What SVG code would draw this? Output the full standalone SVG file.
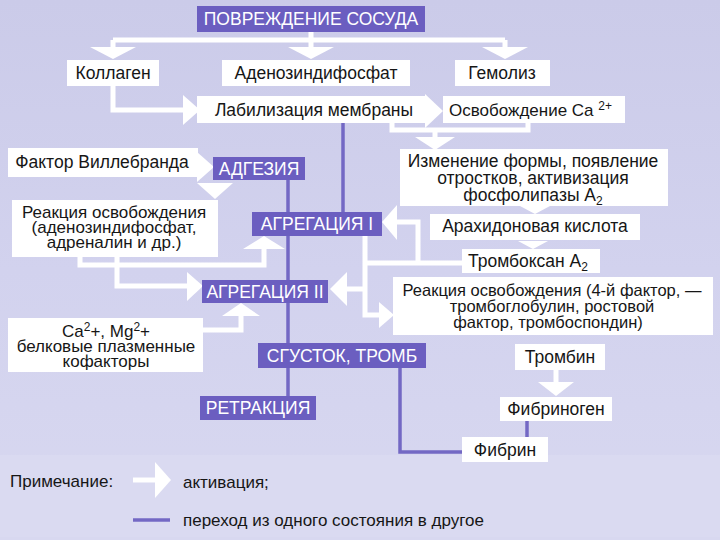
<svg xmlns="http://www.w3.org/2000/svg" width="720" height="540" viewBox="0 0 720 540">
<defs>
<linearGradient id="bgg" x1="0" y1="0" x2="0" y2="1">
<stop offset="0" stop-color="#cbcbe9"/>
<stop offset="0.5" stop-color="#d2d2ee"/>
<stop offset="1" stop-color="#d8d8f0"/>
</linearGradient>
<style>
.t{font-family:"Liberation Sans",Arial,sans-serif;font-size:17.5px;fill:#161616;text-anchor:middle}
.s{font-size:17px}
.r{font-size:16.5px}
.pt{font-family:"Liberation Sans",Arial,sans-serif;font-size:17.5px;fill:#ffffff;text-anchor:middle}
.lt{font-family:"Liberation Sans",Arial,sans-serif;font-size:17px;fill:#161616}
.box{fill:#ffffff}
.pbox{fill:#6b5ec0}
.w{fill:none;stroke:#ffffff;stroke-width:5}
.ah{fill:#ffffff}
.p{fill:none;stroke:#7368c4;stroke-width:3.5}
</style>
</defs>
<rect x="0" y="0" width="720" height="540" fill="url(#bgg)"/>
<rect x="0" y="455" width="720" height="82" fill="#dadaf1"/>

<g id="connectors">
<path class="w" d="M113,40 H505 M311,32 V48 M113,40 V48 M505,40 V48"/>
<polygon class="ah" points="90,47 136,47 113,59"/>
<polygon class="ah" points="288,47 334,47 311,59"/>
<polygon class="ah" points="482,47 528,47 505,59"/>
<path class="w" d="M113,86 V110 H185"/>
<polygon class="ah" points="183,95 183,125 200,110"/>
<polygon class="ah" points="425,94 425,128 443,111"/>
<path class="w" d="M392,123 V130 H528 V123 M435,130 V138"/>
<polygon class="ah" points="415,137 455,137 435,150"/>
<polygon class="ah" points="197,152 197,182 214,167"/>
<polygon class="ah" points="197,183 233,183 215,199"/>
<path class="w" d="M117,257 V286 H188"/>
<polygon class="ah" points="187,272 187,301 203,286"/>
<path class="w" d="M80,257 V265 H264 V248"/>
<polygon class="ah" points="243,249 285,249 264,236"/>
<path class="w" d="M203,330 H241 V315"/>
<polygon class="ah" points="222,316 260,316 241,303"/>
<polygon class="ah" points="520,206 550,206 535,214"/>
<polygon class="ah" points="518,241 548,241 533,249"/>
<path class="w" d="M462,263 H365 M418,263 V222 H397"/>
<polygon class="ah" points="397,205 397,240 382,222"/>
<path class="w" d="M365,236 V315 H380 M365,289 H347"/>
<polygon class="ah" points="379,302 379,328 394,315"/>
<polygon class="ah" points="347,272 347,306 330,289"/>
<path class="w" d="M556,370 V383"/>
<polygon class="ah" points="538,382 574,382 556,396"/>
<path class="p" d="M343,123 V212"/>
<path class="p" d="M288,180 V396"/>
<path class="p" d="M400,368 V452 H462"/>
<path class="p" d="M527,421 V437"/>
</g>

<g id="povrezhdenie"><rect class="pbox" x="197" y="6" width="228" height="26"/><text class="pt" x="311" y="25">ПОВРЕЖДЕНИЕ СОСУДА</text></g>
<g id="kollagen"><rect class="box" x="67" y="60" width="92" height="26"/><text class="t" x="113" y="79">Коллаген</text></g>
<g id="adf"><rect class="box" x="222" y="60" width="188" height="26"/><text class="t" x="316" y="79">Аденозиндифосфат</text></g>
<g id="gemoliz"><rect class="box" x="455" y="60" width="95" height="26"/><text class="t" x="502" y="79">Гемолиз</text></g>
<g id="labilizacia"><rect class="box" x="197" y="96" width="230" height="27"/><text class="t" x="314" y="116">Лабилизация мембраны</text></g>
<g id="osvobozhdenie-ca"><rect class="box" x="443" y="96" width="182" height="27"/><text class="t s" x="449" y="116" style="text-anchor:start">Освобождение Ca <tspan font-size="12" dy="-6">2+</tspan></text></g>
<g id="villebrand"><rect class="box" x="8" y="148" width="190" height="29"/><text class="t" x="102" y="168">Фактор Виллебранда</text></g>
<g id="adgezia"><rect class="pbox" x="213" y="157" width="92" height="23"/><text class="pt" x="259" y="175">АДГЕЗИЯ</text></g>
<g id="izmenenie"><rect class="box" x="400" y="149" width="268" height="57"/>
<text class="t"><tspan x="533" y="167">Изменение формы, появление</tspan><tspan x="533" y="184">отростков, активизация</tspan><tspan x="533" y="201">фосфолипазы A<tspan font-size="12" dy="4">2</tspan></tspan></text></g>
<g id="reakcia-1"><rect class="box" x="12" y="200" width="206" height="57"/>
<text class="t s"><tspan x="114" y="218">Реакция освобождения</tspan><tspan x="114" y="233">(аденозиндифосфат,</tspan><tspan x="114" y="248">адреналин и др.)</tspan></text></g>
<g id="agregacia-1"><rect class="pbox" x="252" y="212" width="130" height="24"/><text class="pt" x="317" y="230">АГРЕГАЦИЯ I</text></g>
<g id="arahidonovaya"><rect class="box" x="430" y="214" width="210" height="26"/><text class="t" x="535" y="232">Арахидоновая кислота</text></g>
<g id="tromboksan"><rect class="box" x="462" y="249" width="138" height="24"/><text class="t" x="528" y="267">Тромбоксан A<tspan font-size="12" dy="4">2</tspan></text></g>
<g id="agregacia-2"><rect class="pbox" x="202" y="280" width="126" height="23"/><text class="pt" x="265" y="298">АГРЕГАЦИЯ II</text></g>
<g id="reakcia-2"><rect class="box" x="393" y="277" width="320" height="58"/>
<text class="t r"><tspan x="552" y="296">Реакция освобождения (4-й фактор, —</tspan><tspan x="552" y="312">тромбоглобулин, ростовой</tspan><tspan x="548" y="328">фактор, тромбоспондин)</tspan></text></g>
<g id="kofaktory"><rect class="box" x="8" y="318" width="195" height="54"/>
<text class="t s"><tspan x="106" y="337">Ca<tspan font-size="12" dy="-6">2</tspan><tspan dy="6">+, Mg</tspan><tspan font-size="12" dy="-6">2</tspan><tspan dy="6">+</tspan></tspan><tspan x="106" y="352">белковые плазменные</tspan><tspan x="106" y="367">кофакторы</tspan></text></g>
<g id="sgustok"><rect class="pbox" x="258" y="343" width="168" height="25"/><text class="pt" x="342" y="362">СГУСТОК, ТРОМБ</text></g>
<g id="trombin"><rect class="box" x="515" y="344" width="90" height="26"/><text class="t" x="560" y="363">Тромбин</text></g>
<g id="retrakcia"><rect class="pbox" x="200" y="396" width="116" height="24"/><text class="pt" x="258" y="414">РЕТРАКЦИЯ</text></g>
<g id="fibrinogen"><rect class="box" x="500" y="397" width="112" height="24"/><text class="t" x="556" y="415">Фибриноген</text></g>
<g id="fibrin"><rect class="box" x="462" y="437" width="86" height="25"/><text class="t" x="505" y="456">Фибрин</text></g>

<g id="legend">
<text class="lt" x="10" y="487">Примечание:</text>
<path class="w" d="M133,480 H157"/>
<polygon class="ah" points="155,462 155,498 171,480"/>
<text class="lt" x="183" y="488">активация;</text>
<path class="p" d="M133,520 H170"/>
<text class="lt" x="183" y="526">переход из одного состояния в другое</text>
</g>
</svg>
